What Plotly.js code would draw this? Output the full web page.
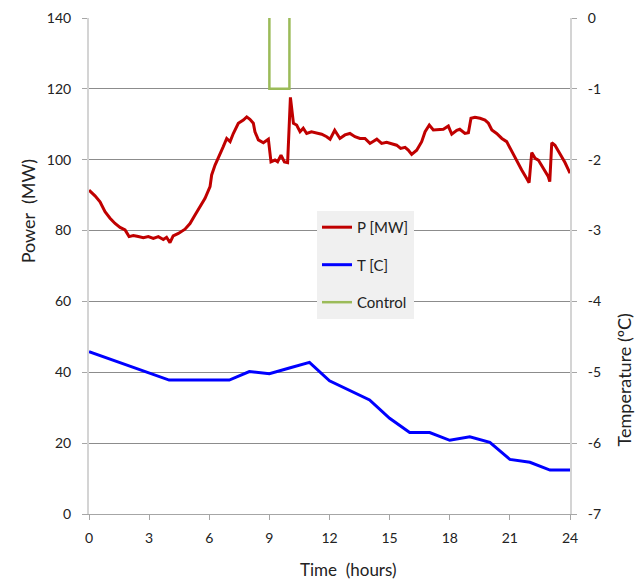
<!DOCTYPE html>
<html>
<head>
<meta charset="utf-8">
<script src="https://cdn.plot.ly/plotly-3.0.1.min.js"></script>
<style>html,body{margin:0;padding:0;background:#fff;}#chart{width:637px;height:582px;}</style>
</head>
<body>
<div id="chart"></div>
<script>
// Power P [MW] (left axis)
const pHours = [0,0.3,0.55,0.8,1.05,1.3,1.55,1.8,2.0,2.21,2.46,2.71,2.96,3.21,3.46,3.71,3.87,4.04,4.2,4.46,4.79,5.04,5.29,5.54,5.79,6.04,6.12,6.29,6.45,6.7,6.87,7.04,7.2,7.45,7.7,7.87,8.03,8.2,8.28,8.45,8.7,8.95,9.08,9.28,9.41,9.58,9.75,9.91,10.05,10.2,10.36,10.53,10.69,10.86,11.1,11.36,11.61,11.86,12.03,12.26,12.52,12.77,13.02,13.27,13.52,13.77,14.02,14.36,14.6,14.85,15.1,15.35,15.55,15.77,15.93,16.1,16.35,16.6,16.77,16.98,17.18,17.43,17.68,17.93,18.1,18.35,18.5,18.76,18.93,19.06,19.26,19.51,19.76,19.93,20.1,20.34,20.6,20.84,21.1,21.34,21.59,21.84,21.96,22.09,22.26,22.42,22.67,22.92,22.99,23.09,23.25,23.5,23.75,24.0];
const pValues = [91.4,89.8,88.1,85.3,83.5,82.0,80.9,80.2,78.3,78.6,78.3,78.0,78.3,77.8,78.3,77.5,78.1,76.6,78.5,79.2,80.4,82.0,84.4,86.7,89.1,92.4,95.7,98.5,100.4,103.7,106.0,105.1,107.4,110.3,111.2,112.1,111.4,110.3,107.9,105.6,104.8,105.8,99.4,99.9,99.4,101.3,99.4,99.2,117.6,110.3,109.8,107.9,108.9,107.4,107.9,107.6,107.2,106.5,105.8,108.3,106.0,107.0,107.4,106.5,106.0,106.0,104.6,105.8,104.6,104.9,104.6,104.1,103.2,103.5,102.7,101.5,102.7,105.1,107.9,109.8,108.4,108.6,108.6,109.5,107.2,108.3,108.6,107.4,107.6,111.7,112.0,111.7,111.2,110.3,108.4,107.4,106.0,105.1,102.3,99.4,97.1,94.7,93.5,102.0,100.4,99.9,97.6,95.2,93.8,104.8,104.1,101.8,99.2,96.2];

// Temperature T [C] (right axis)
const tHours = [0,1,2,3,4,5,6,7,8,9,10,11,12,13,14,15,16,17,18,19,20,21,22,23,24];
const tValues = [-4.71,-4.81,-4.91,-5.01,-5.11,-5.11,-5.11,-5.11,-4.99,-5.02,-4.94,-4.86,-5.12,-5.25,-5.39,-5.65,-5.85,-5.85,-5.96,-5.91,-5.99,-6.23,-6.27,-6.38,-6.38];

// Control (right axis)
const ctrlHours = [9,9,10,10];
const ctrlValues = [0,-1,-1,0];

const xTicks = [0,3,6,9,12,15,18,21,24];
const leftTicks = [0,20,40,60,80,100,120,140];
const rightTicks = [-7,-6,-5,-4,-3,-2,-1,0];

const FONT = 'Lato, "Open Sans", sans-serif';

const traces = [
  {x: pHours, y: pValues, name: 'P [MW]', type: 'scatter', mode: 'lines',
   line: {color: '#c00000', width: 3}, yaxis: 'y', legendgroup: 'a'},
  {x: tHours, y: tValues, name: 'T [C]', type: 'scatter', mode: 'lines',
   line: {color: '#0000ff', width: 3}, yaxis: 'y2', legendgroup: 'b'},
  {x: ctrlHours, y: ctrlValues, name: 'Control', type: 'scatter', mode: 'lines',
   line: {color: '#9bbb59', width: 2.5}, yaxis: 'y2', legendgroup: 'c'}
];

const layout = {
  width: 637, height: 582,
  margin: {l: 89, r: 67, t: 18, b: 68},
  paper_bgcolor: '#ffffff', plot_bgcolor: '#ffffff',
  font: {family: FONT, size: 14, color: '#222'},
  showlegend: true,
  legend: {x: 0.474, y: 0.611, xanchor: 'left', yanchor: 'top',
    bgcolor: '#f0f0f0', borderwidth: 0, tracegroupgap: 15,
    font: {family: FONT, size: 15, color: '#222'}, itemwidth: 30},
  xaxis: {range: [0, 24], tickvals: xTicks, ticktext: xTicks.map(String),
    ticks: 'outside', ticklen: 5, tickcolor: '#a6a6a6',
    showline: true, linecolor: '#a6a6a6', linewidth: 1,
    showgrid: false, zeroline: false, ticklabelstandoff: 6,
    tickfont: {family: FONT, size: 14, color: '#222'}},
  yaxis: {range: [0, 140], tickvals: leftTicks, ticktext: leftTicks.map(String),
    ticks: 'outside', ticklen: 5, tickcolor: '#a6a6a6',
    showline: true, linecolor: '#d4d4d4', linewidth: 2,
    showgrid: true, gridcolor: '#8c8c8c', gridwidth: 1, zeroline: false,
    ticklabelstandoff: 8,
    tickfont: {family: FONT, size: 14, color: '#222'}},
  yaxis2: {range: [-7, 0], tickvals: rightTicks, ticktext: rightTicks.map(String),
    overlaying: 'y', side: 'right',
    ticks: 'outside', ticklen: 5, tickcolor: '#a6a6a6',
    showline: true, linecolor: '#d4d4d4', linewidth: 2,
    showgrid: false, zeroline: false, ticklabelstandoff: 8,
    tickfont: {family: FONT, size: 14, color: '#222'}},
  annotations: [
    {text: 'Time  (hours)', xref: 'paper', yref: 'paper', x: 0.54, y: -0.111,
     xanchor: 'center', yanchor: 'middle', showarrow: false,
     font: {family: FONT, size: 17, color: '#222'}},
    {text: 'Power  (MW)', xref: 'paper', yref: 'paper', x: -0.125, y: 0.61,
     xanchor: 'center', yanchor: 'middle', textangle: -90, showarrow: false,
     font: {family: FONT, size: 18, color: '#222'}},
    {text: 'Temperature (ºC)', xref: 'paper', yref: 'paper', x: 1.113, y: 0.27,
     xanchor: 'center', yanchor: 'middle', textangle: -90, showarrow: false,
     font: {family: FONT, size: 18, color: '#222'}}
  ]
};

Plotly.newPlot('chart', traces, layout, {displayModeBar: false, staticPlot: true});
</script>
</body>
</html>
